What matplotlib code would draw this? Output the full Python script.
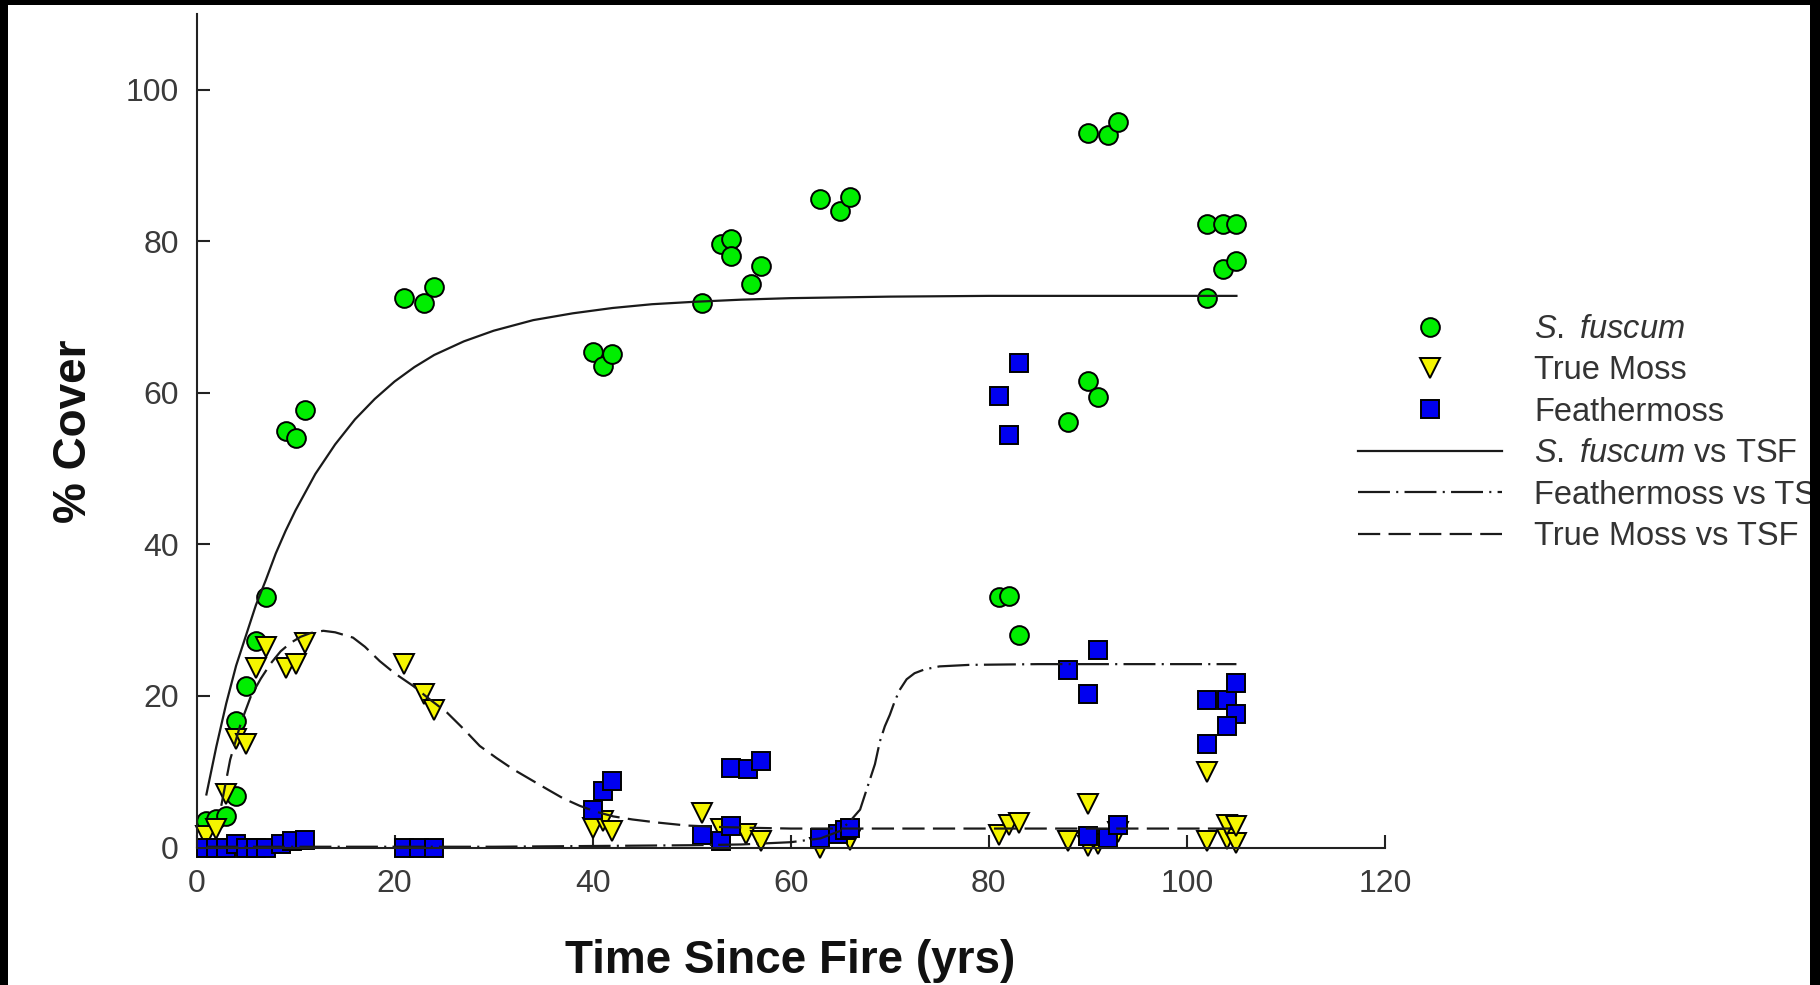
# -*- coding:utf-8 -*-
# moss cover vs time since fire
import matplotlib.pyplot as plt
from matplotlib.patches import Rectangle

plt.rcParams['font.family'] = ['Liberation Sans', 'DejaVu Sans']
plt.rcParams['mathtext.fontset'] = 'custom'
plt.rcParams['mathtext.it'] = 'Liberation Sans:italic'
plt.rcParams['mathtext.rm'] = 'Liberation Sans'
plt.rcParams['lines.scale_dashes'] = False

# observations
sf_x = [1, 2, 3, 4, 4, 5, 6, 7, 9, 10, 11, 21, 23, 24, 40, 41, 42, 51, 53, 54, 54, 56, 57,
        63, 65, 66, 81, 82, 83, 88, 90, 91, 90, 92, 93, 102, 103.6, 105, 102, 103.6, 105]
sf_y = [3.5, 3.7, 4.1, 6.8, 16.7, 21.3, 27.2, 33.0, 55.0, 54.0, 57.8, 72.5, 71.8, 74.0, 65.4, 63.5, 65.1,
        71.9, 79.7, 80.3, 78.0, 74.4, 76.7, 85.6, 84.0, 85.8, 33.0, 33.2, 28.1, 56.1, 61.6, 59.4,
        94.3, 94.0, 95.7, 82.3, 82.3, 82.3, 72.5, 76.3, 77.4]

tm_x = [1, 2, 3, 4, 5, 6, 7, 9, 10, 11, 21, 23, 24, 40, 41, 42, 51, 53, 55.5, 57, 63, 66,
        81, 82, 83, 88, 90, 90, 91, 93, 102, 102, 104, 105, 104, 105]
tm_y = [1.5, 2.5, 7.0, 14.3, 13.6, 23.7, 26.4, 23.7, 24.2, 27.0, 24.2, 20.2, 18.2, 2.6, 3.5, 2.2,
        4.5, 2.5, 1.8, 0.8, 0.0, 1.0, 1.7, 3.0, 3.2, 0.8, 5.7, 0.2, 0.5, 2.0, 9.9, 0.8, 1.1, 0.6, 3.0, 2.8]

fm_x = [1, 2, 3, 4, 5, 6, 7, 8.5, 9.6, 11, 21, 22.5, 24, 40, 41, 42, 51, 53, 54, 54, 55.7, 57,
        63, 64.8, 65.5, 66, 81, 82, 83, 88, 90, 91, 90, 92, 93, 102, 104, 105, 105, 104, 102]
fm_y = [0, 0, 0, 0.5, 0, 0, 0, 0.4, 0.9, 1.0, 0, 0, 0, 5.0, 7.4, 8.8, 1.7, 0.8, 2.8, 10.5, 10.3, 11.4,
        1.2, 1.8, 2.3, 2.6, 59.6, 54.5, 64.0, 23.4, 20.3, 26.1, 1.5, 1.3, 3.0, 19.5, 19.5, 21.7, 17.6, 16.1, 13.6]

# fitted curves
sf_fit_x = [1, 2, 3, 4, 5, 6, 7, 8, 9, 10, 12, 14, 16, 18, 20, 22, 24, 27, 30, 34, 38, 42, 46, 50,
            55, 60, 70, 80, 90, 105]
sf_fit_y = [7.0, 13.3, 19.0, 24.0, 28.0, 32.0, 35.3, 38.8, 41.8, 44.5, 49.3, 53.2, 56.5, 59.2, 61.5,
            63.4, 65.0, 66.8, 68.2, 69.6, 70.5, 71.2, 71.7, 72.0, 72.3, 72.5, 72.7, 72.8, 72.8, 72.8]

tm_fit_x = [2.5, 3.4, 4.5, 5.5, 6.5, 7.5, 8.5, 9.5, 10.5, 11.5, 12.8, 14, 15.8, 17, 18.5, 20, 21.9,
            23.5, 25.3, 27, 28.6, 30.3, 32, 33.7, 35.4, 37, 38.7, 40.4, 42.1, 44, 46.5, 49.5, 53, 56,
            60, 70, 80, 90, 105]
tm_fit_y = [5.5, 11.6, 16.5, 20.0, 22.3, 24.3, 25.9, 27.0, 27.8, 28.3, 28.6, 28.4, 27.7, 26.5, 24.6,
            23.0, 21.3, 19.6, 17.8, 15.6, 13.4, 11.8, 10.3, 9.0, 7.7, 6.5, 5.5, 4.7, 4.1, 3.7, 3.3,
            2.9, 2.7, 2.6, 2.5, 2.5, 2.5, 2.5, 2.5]

fm_fit_x = [1, 10, 20, 30, 40, 50, 55, 60, 63, 65, 66, 67, 68, 68.5, 69, 69.5, 70, 70.5, 71, 71.7,
            72.5, 73.5, 75, 78, 85, 105]
fm_fit_y = [0.1, 0.1, 0.1, 0.1, 0.2, 0.3, 0.4, 0.7, 1.2, 2.2, 3.5, 5.0, 9.0, 11.0, 14.0, 16.0, 17.5,
            19.3, 20.8, 22.2, 23.0, 23.5, 23.9, 24.1, 24.2, 24.2]

W, H = 1820, 985
fig = plt.figure(figsize=(W / 100, H / 100), dpi=100, facecolor='black')
fig.patches.append(Rectangle((8 / W, 0), (1810 - 8) / W, (H - 5) / H, transform=fig.transFigure,
                             facecolor='white', edgecolor='none', zorder=-5))

ax = fig.add_axes([196.5 / W, 1 - 847.5 / H, (1385 - 196.5) / W, (847.5 - 14) / H])

mk = dict(linestyle='none', markeredgecolor='black', markeredgewidth=1.4, clip_on=False)
h_sf, = ax.plot(sf_x, sf_y, marker='o', markerfacecolor='#00ee00', markersize=13.5, **mk)
h_tm, = ax.plot(tm_x, tm_y, marker='v', markerfacecolor='#f5f500', markersize=14, **mk)
h_fm, = ax.plot(fm_x, fm_y, marker='s', markerfacecolor='#0000f0', markersize=12.5, **mk)

ln = dict(color='#1a1a1a', linewidth=1.6, dash_capstyle='butt')
l_sf, = ax.plot(sf_fit_x, sf_fit_y, linestyle='-', **ln)
l_fm, = ax.plot(fm_fit_x, fm_fit_y, linestyle=(0, (23, 4.5, 1.5, 4.5)), **ln)
l_tm, = ax.plot(tm_fit_x, tm_fit_y, linestyle=(0, (16, 6)), **ln)

ax.set_xlim(0, 120)
ax.set_ylim(0, 110)
ax.set_xticks(range(0, 121, 20))
ax.set_yticks(range(0, 101, 20))
ax.spines['top'].set_visible(False)
ax.spines['right'].set_visible(False)
for s in ['left', 'bottom']:
    ax.spines[s].set_linewidth(1.5)
    ax.spines[s].set_color('#222222')
ax.tick_params(direction='in', length=9.4, width=1.5, color='#222222',
               labelsize=23, labelcolor='#3a3a3a')
ax.tick_params(axis='y', pad=12.6)
ax.tick_params(axis='x', pad=15.5)

leg = ax.legend(handles=[h_sf, h_tm, h_fm, l_sf, l_fm, l_tm],
                labels=[r'$\mathit{S.}$ $\mathit{fuscum}$', 'True Moss', 'Feathermoss',
                        r'$\mathit{S.}$ $\mathit{fuscum}$ vs TSF', 'Feathermoss vs TSF', 'True Moss vs TSF'],
                loc='upper left', bbox_to_anchor=(1358 / W, 1 - 314 / H), bbox_transform=fig.transFigure,
                frameon=False, fontsize=23.5, handlelength=4.4, handletextpad=1.0,
                labelspacing=0.32, borderpad=0, borderaxespad=0, numpoints=1)
for t in leg.get_texts():
    t.set_color('#333333')

fig.text(790 / W, 1 - 961 / H, 'Time Since Fire (yrs)', ha='center', va='center',
         fontsize=33, fontweight='bold', color='#111111')
fig.text(74 / W, 1 - 431 / H, '% Cover', rotation=90, ha='center', va='center',
         fontsize=33, fontweight='bold', color='#111111')

# black frame round the picture
for r in [(0, 0, 8 / W, 1), (1810 / W, 0, 10 / W, 1), (0, 1 - 5 / H, 1, 5 / H)]:
    fig.patches.append(Rectangle(r[:2], r[2], r[3], transform=fig.transFigure,
                                 facecolor='black', edgecolor='none', zorder=20))

fig.savefig('out.png', dpi=100, facecolor=fig.get_facecolor())
